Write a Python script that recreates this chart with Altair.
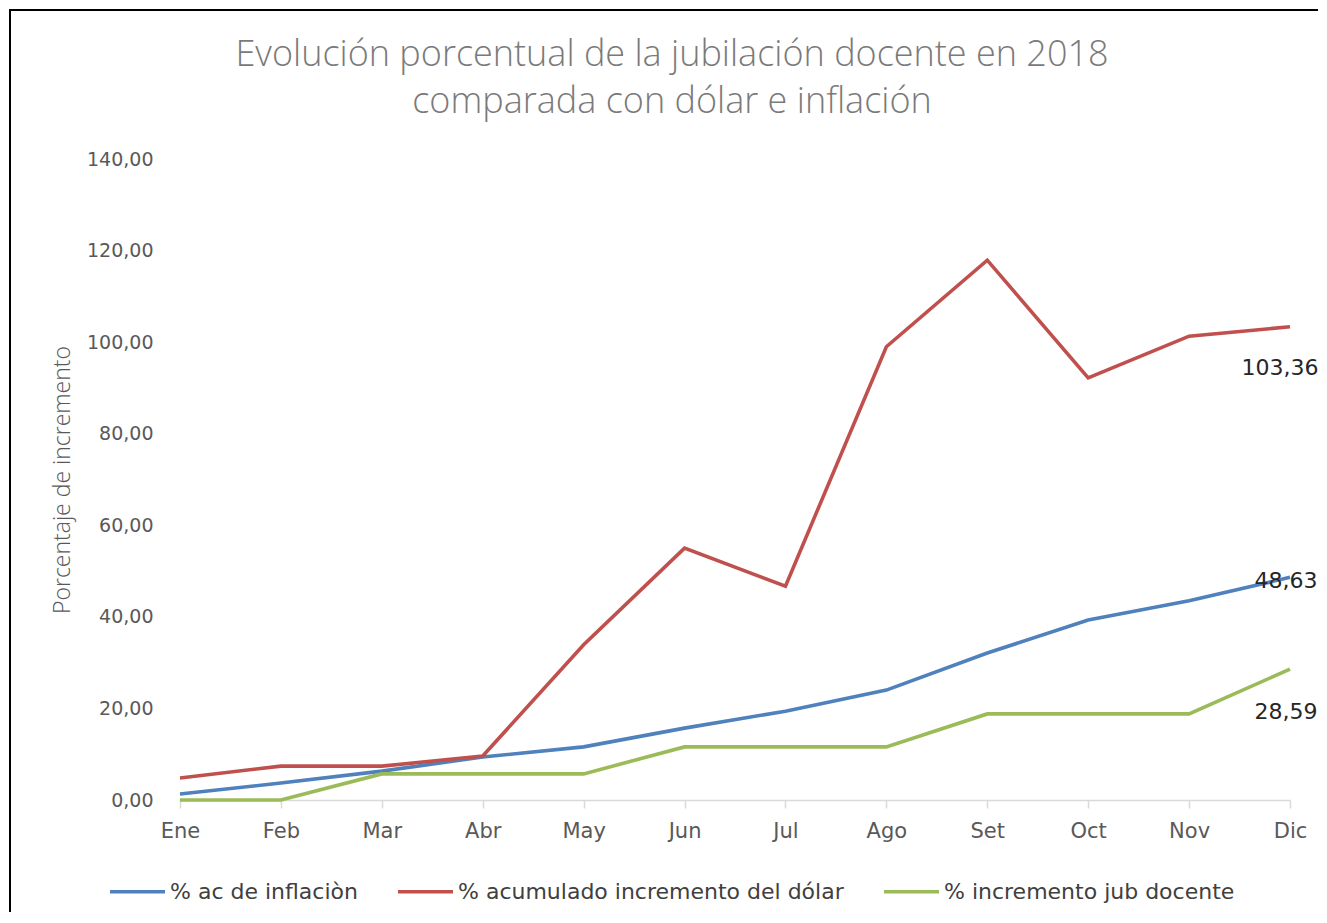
import altair as alt
import pandas as pd

months = ["Ene", "Feb", "Mar", "Abr", "May", "Jun", "Jul", "Ago", "Set", "Oct", "Nov", "Dic"]
series_names = ["% ac de inflaciòn", "% acumulado incremento del dólar", "% incremento jub docente"]
inflacion = [1.3, 3.7, 6.3, 9.4, 11.6, 15.7, 19.4, 24.0, 32.1, 39.3, 43.5, 48.63]
dolar = [4.8, 7.4, 7.4, 9.6, 33.9, 55.0, 46.7, 99.0, 117.9, 92.2, 101.3, 103.36]
jubilacion = [0.0, 0.0, 5.7, 5.7, 5.7, 11.6, 11.6, 11.6, 18.8, 18.8, 18.8, 28.59]
colors = ["#4F81BD", "#C0504D", "#9BBB59"]
y_ticks = [0, 20, 40, 60, 80, 100, 120, 140]

rows = []
for name, vals in zip(series_names, [inflacion, dolar, jubilacion]):
    for m, v in zip(months, vals):
        rows.append({"mes": m, "serie": name, "valor": v})
df = pd.DataFrame(rows)

x_enc = alt.X("mes:N", sort=months, scale=alt.Scale(type="point", padding=0),
              axis=alt.Axis(title=None, labelAngle=0, domainColor="#d9d9d9", domainWidth=1.5,
                            tickColor="#d9d9d9", tickWidth=1.5, tickSize=8, grid=False,
                            labelFont="DejaVu Sans", labelFontSize=21, labelColor="#595959",
                            labelPadding=12))
y_enc = alt.Y("valor:Q", scale=alt.Scale(domain=[0, 140], nice=False, zero=True),
              axis=alt.Axis(title="Porcentaje de incremento", values=y_ticks, domain=False,
                            ticks=False, grid=False,
                            labelExpr="replace(format(datum.value, '.2f'), '.', ',')",
                            labelFont="DejaVu Sans", labelFontSize=19, labelColor="#595959",
                            labelPadding=27, titleFont="Open Sans", titleFontSize=23,
                            titleFontWeight=300, titleColor="#595959", titlePadding=12))

lines = alt.Chart(df).mark_line(strokeWidth=3.6).encode(
    x=x_enc,
    y=y_enc,
    color=alt.Color("serie:N", sort=series_names,
                    scale=alt.Scale(domain=series_names, range=colors),
                    legend=alt.Legend(title=None, orient="none", direction="horizontal",
                                      legendX=-72, legendY=703, symbolType="stroke",
                                      symbolStrokeWidth=3.6, symbolSize=3025,
                                      labelFont="DejaVu Sans", labelFontSize=22, labelLimit=0,
                                      labelColor="#404040", columnPadding=32, labelOffset=3)),
)

def end_label(name, dy, dx):
    return alt.Chart(df).transform_filter(
        (alt.datum.serie == name) & (alt.datum.mes == "Dic")
    ).transform_calculate(
        lbl="replace(format(datum.valor, '.2f'), '.', ',')"
    ).mark_text(font="DejaVu Sans", fontSize=22, color="#262626", dy=dy, dx=dx, align="center").encode(
        x=alt.X("mes:N", sort=months),
        y=alt.Y("valor:Q"),
        text="lbl:N",
    )

labels = [end_label(series_names[1], 41, -10), end_label(series_names[0], 4, -4),
          end_label(series_names[2], 43, -4)]

frame = alt.Chart(alt.Data(values=[{}])).mark_rect(fill="transparent", stroke="#000000", strokeWidth=2).encode(
    x=alt.value(-170), x2=alt.value(1400), y=alt.value(-149), y2=alt.value(1000)
)

chart = alt.layer(frame, lines, *labels).properties(
    width=1110,
    height=641,
    background="white",
    autosize=alt.AutoSizeParams(type="none"),
    padding={"left": 172, "top": 151, "right": 28, "bottom": 112},
    title=alt.TitleParams(
        text=["Evolución porcentual de la jubilación docente en 2018", "comparada con dólar e inflación"],
        font="Open Sans", fontSize=36, fontWeight=300, color="#7a7a7a",
        anchor="middle", frame="group", dx=-63, offset=-112, lineHeight=47,
    ),
).configure_view(stroke=None)

chart.save("out.html", embed_options={"renderer": "svg", "actions": False})
